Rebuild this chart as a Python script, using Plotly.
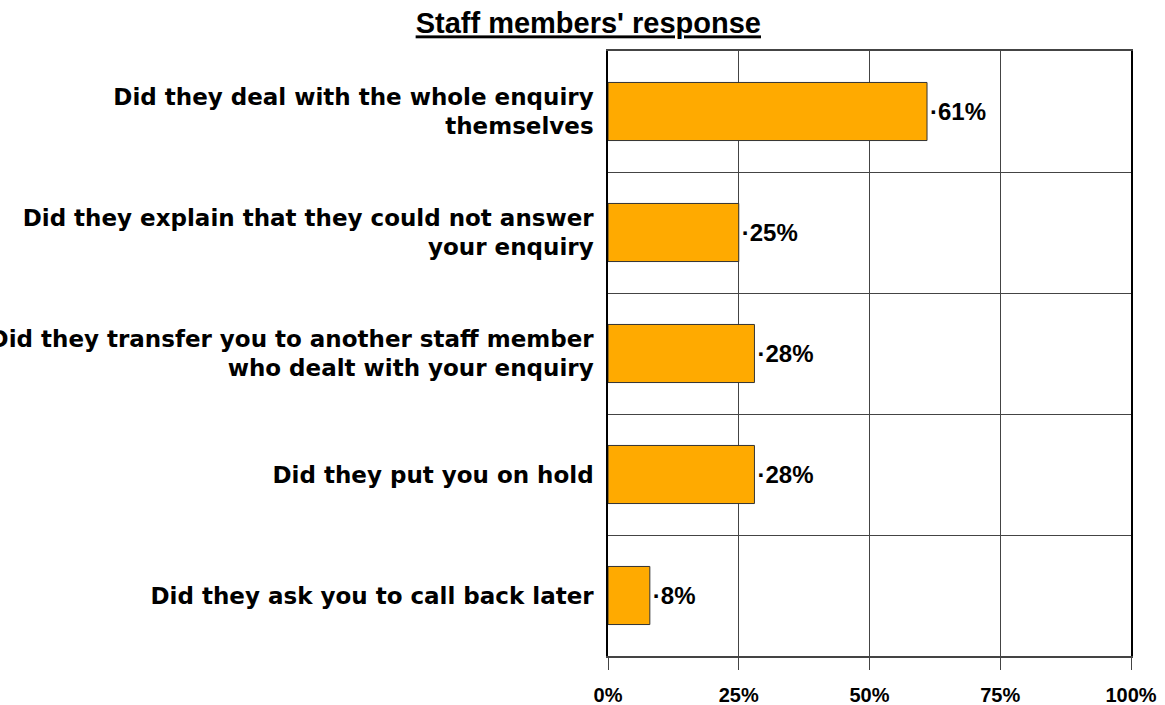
import plotly.graph_objects as go

categories = [
    "Did they deal with the whole enquiry<br>themselves",
    "Did they explain that they could not answer<br>your enquiry",
    "Did they transfer you to another staff member<br>who dealt with your enquiry",
    "Did they put you on hold",
    "Did they ask you to call back later",
]
values = [61, 25, 28, 28, 8]
labels = ["\u00b7" + f"{v}%" for v in values]
x_ticks = [0, 25, 50, 75, 100]
x_ticktext = ["0%", "25%", "50%", "75%", "100%"]

FONT = "Liberation Sans, Arial, sans-serif"
LABEL_FONT = "DejaVu Sans, Liberation Sans, sans-serif"

fig = go.Figure(go.Bar(
    x=values,
    y=categories,
    orientation="h",
    width=0.48,
    marker=dict(color="#FFAA00", line=dict(color="#333333", width=1)),
    text=labels,
    textposition="outside",
    textfont=dict(family=FONT, size=24, color="black", weight="bold"),
    cliponaxis=False,
))

fig.update_layout(
    width=1165, height=705,
    margin=dict(l=608, r=34, t=51, b=49),
    paper_bgcolor="white", plot_bgcolor="white",
    showlegend=False,
    title=dict(
        text="<b>Staff members' response</b>",
        x=0.505, xanchor="center", y=0.967, yanchor="middle",
        font=dict(family=FONT, size=29, color="black", lineposition="under"),
    ),
    xaxis=dict(
        range=[0, 100], tickvals=x_ticks, ticktext=x_ticktext,
        showgrid=True, gridcolor="#444444", gridwidth=1,
        ticks="outside", ticklen=12, tickcolor="#444444",
        ticklabelstandoff=8, automargin=False,
        showline=True, linecolor="#444444", linewidth=1.5, mirror=True,
        tickfont=dict(family=FONT, size=20, color="black", weight="bold"),
        zeroline=False, fixedrange=True,
    ),
    yaxis=dict(
        type="category", autorange="reversed", tickson="boundaries",
        showgrid=True, gridcolor="#444444", gridwidth=1,
        ticks="outside", ticklen=12, tickcolor="rgba(0,0,0,0)",
        ticklabelstandoff=8, automargin=False,
        showline=True, linecolor="#000000", linewidth=1.5, mirror=True,
        tickfont=dict(family=LABEL_FONT, size=23, color="black", weight="bold"),
    ),
    bargap=0.52,
)

fig.write_html("out.html")
